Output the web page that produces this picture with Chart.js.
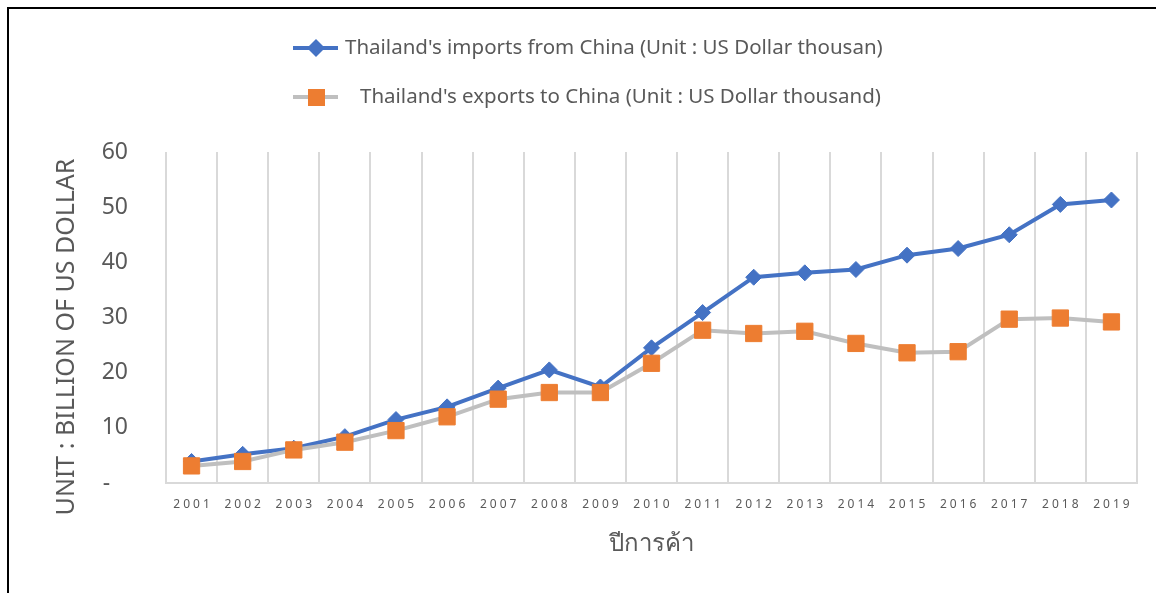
<!DOCTYPE html>
<html>
<head>
<meta charset="utf-8">
<script src="https://cdn.jsdelivr.net/npm/chart.js@4.4.0/dist/chart.umd.min.js"></script>
<style>
  html, body { margin: 0; padding: 0; background: #fff; }
  #wrap { position: relative; width: 1156px; height: 593px; }
  #frame { position: absolute; left: 7px; top: 7px; right: 0; bottom: 0;
           border-top: 2px solid #000; border-left: 2px solid #000; pointer-events: none; }
</style>
</head>
<body>
<div id="wrap">
  <canvas id="chart" width="1156" height="593"></canvas>
  <div id="frame"></div>
</div>
<script>
const years = ['2001','2002','2003','2004','2005','2006','2007','2008','2009','2010',
               '2011','2012','2013','2014','2015','2016','2017','2018','2019'];
const importsFromChina = [3.9, 5.2, 6.3, 8.4, 11.5, 13.8, 17.2, 20.5, 17.4, 24.5,
                          30.9, 37.3, 38.1, 38.7, 41.3, 42.5, 45.0, 50.5, 51.3];
const exportsToChina = [3.1, 3.9, 6.0, 7.4, 9.5, 12.0, 15.2, 16.4, 16.4, 21.7,
                        27.7, 27.1, 27.5, 25.3, 23.6, 23.8, 29.7, 29.9, 29.2];
const legendLabels = ["Thailand's imports from China (Unit : US Dollar thousan)",
                      "Thailand's exports to China (Unit : US Dollar thousand)"];
const yTitle = 'UNIT : BILLION OF US DOLLAR';
const xTitle = 'ปีการค้า';

const FONT = '"Noto Sans", "Open Sans", sans-serif';
const TEXT = '#595959';
const BLUE = '#4472C4';
const ORANGE = '#ED7D31';
const GREY = '#BFBFBF';

// legend, y title and spaced year labels drawn by hand
const extras = {
  id: 'extras',
  afterDraw(chart) {
    const ctx = chart.ctx;
    const xs = chart.scales.x;
    ctx.save();

    ctx.fillStyle = TEXT;
    ctx.font = '12px ' + FONT;
    ctx.letterSpacing = '3px';
    ctx.textAlign = 'center';
    ctx.textBaseline = 'middle';
    years.forEach((yr, i) => ctx.fillText(yr, xs.getPixelForValue(i) + 1.5, 505));
    ctx.letterSpacing = '0px';

    ctx.save();
    ctx.translate(67, 337);
    ctx.rotate(-Math.PI / 2);
    ctx.font = '25px ' + FONT;
    ctx.fillText(yTitle, 0, 0);
    ctx.restore();

    // legend item 1
    ctx.strokeStyle = BLUE;
    ctx.lineWidth = 4;
    ctx.beginPath(); ctx.moveTo(293, 48); ctx.lineTo(338, 48); ctx.stroke();
    ctx.fillStyle = BLUE;
    ctx.beginPath();
    ctx.moveTo(316, 39); ctx.lineTo(325, 48); ctx.lineTo(316, 57); ctx.lineTo(307, 48);
    ctx.closePath(); ctx.fill();

    // legend item 2
    ctx.strokeStyle = GREY;
    ctx.lineWidth = 4;
    ctx.beginPath(); ctx.moveTo(293, 97); ctx.lineTo(338, 97); ctx.stroke();
    ctx.fillStyle = ORANGE;
    ctx.fillRect(308, 89, 17, 17);

    ctx.fillStyle = TEXT;
    ctx.font = '20.5px ' + FONT;
    ctx.textAlign = 'left';
    ctx.fillText(legendLabels[0], 345, 48);
    ctx.fillText(legendLabels[1], 360, 97);
    ctx.restore();
  }
};

new Chart(document.getElementById('chart').getContext('2d'), {
  type: 'line',
  data: {
    labels: years,
    datasets: [
      {
        label: legendLabels[0],
        data: importsFromChina,
        borderColor: BLUE,
        backgroundColor: BLUE,
        borderWidth: 4,
        pointStyle: 'rectRot',
        pointRadius: 8,
        pointBorderWidth: 1,
        tension: 0,
        order: 2,
        clip: false
      },
      {
        label: legendLabels[1],
        data: exportsToChina,
        borderColor: GREY,
        backgroundColor: ORANGE,
        pointBorderColor: ORANGE,
        borderWidth: 4,
        pointStyle: 'rect',
        pointRadius: 11.5,
        pointBorderWidth: 1,
        tension: 0,
        order: 1,
        clip: false
      }
    ]
  },
  options: {
    responsive: false,
    animation: false,
    layout: { padding: { left: 20, right: 19, top: 152, bottom: 0 } },
    plugins: { legend: { display: false }, tooltip: { enabled: false } },
    scales: {
      x: {
        offset: true,
        grid: { color: '#D9D9D9', lineWidth: 2, offset: true, drawTicks: false },
        border: { color: '#D9D9D9', width: 2 },
        ticks: { display: false },
        title: { display: true, text: xTitle, color: TEXT,
                 font: { family: FONT, size: 24 }, padding: { top: 0, bottom: 34 } },
        afterFit: s => { s.height = 110; }
      },
      y: {
        min: 0,
        max: 60,
        grid: { display: false, drawTicks: false },
        border: { display: false },
        ticks: {
          stepSize: 10,
          padding: 38,
          color: TEXT,
          font: { family: FONT, size: 23 },
          callback: v => v === 0 ? '-   ' : String(v)
        },
        afterFit: s => { s.width = 146; }
      }
    }
  },
  plugins: [extras]
});
</script>
</body>
</html>
